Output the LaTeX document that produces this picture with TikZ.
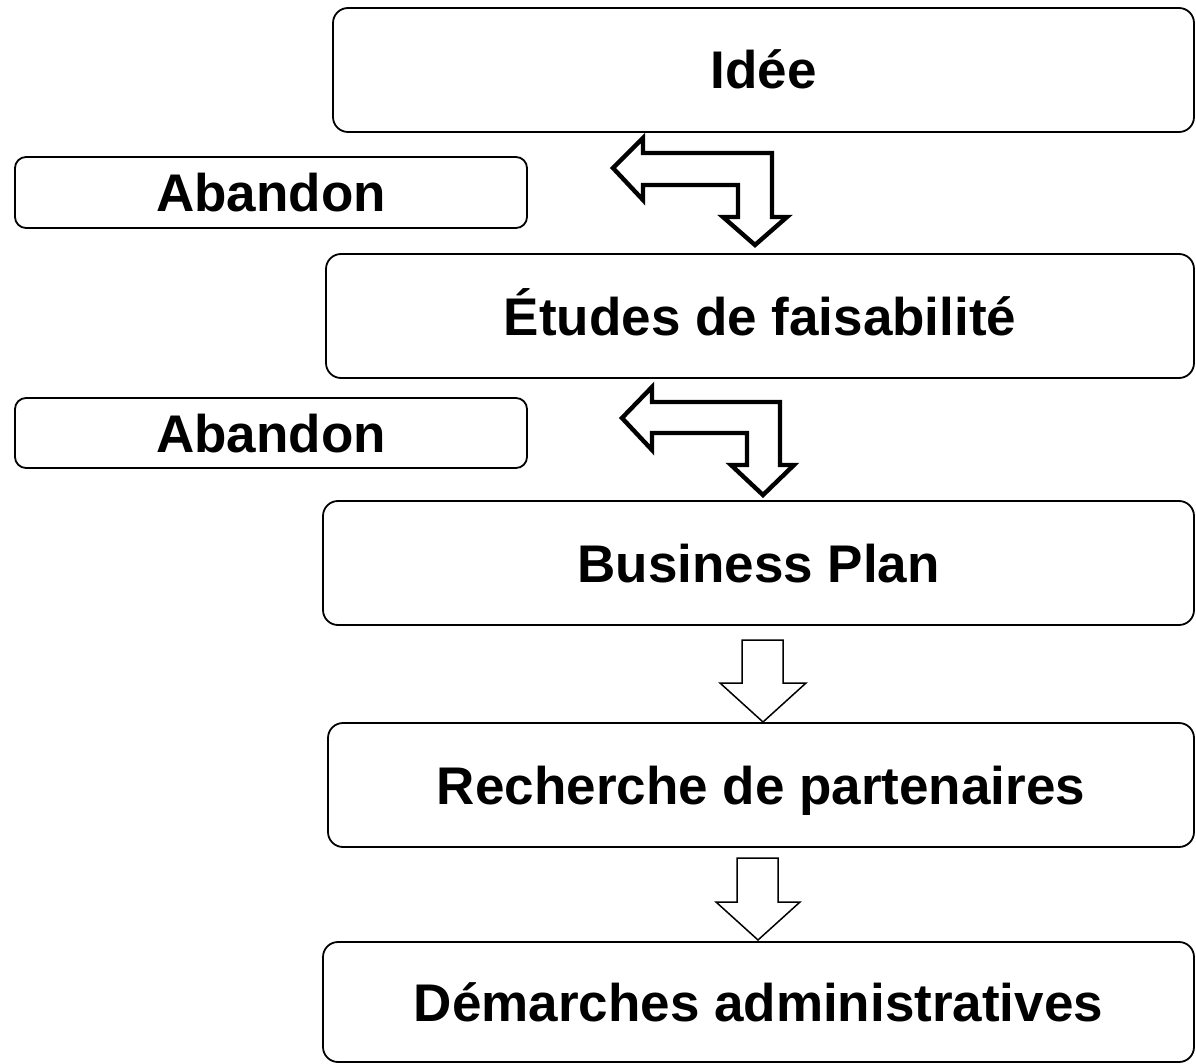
\documentclass[tikz,border=0pt]{standalone}
\usepackage{fontspec}
\setmainfont{Liberation Sans}
\begin{document}
\begin{tikzpicture}[x=1pt,y=-1pt,
  box/.style={draw,line width=1.8pt,rounded corners=15pt,inner sep=0pt,
    text height=38pt,text depth=0pt,
    font=\fontsize{53}{60}\selectfont\bfseries},
  smallbox/.style={box,rounded corners=11pt},
  bentarrow/.style={draw,line width=4.4pt,line join=miter,fill=white},
  downarrow/.style={draw,line width=1.5pt,line join=miter,fill=white}]
\useasboundingbox (0,0) rectangle (1196,1064);

\node[box,minimum width=861pt,minimum height=124pt] (idee) at (763.5,70) {Idée};
\node[smallbox,minimum width=512pt,minimum height=71pt] (ab1) at (271,192.5) {Abandon};
\node[box,minimum width=868pt,minimum height=124pt] (etudes) at (760,316) {Études de faisabilité};
\node[smallbox,minimum width=512pt,minimum height=70pt] (ab2) at (271,433) {Abandon};
\node[box,minimum width=871pt,minimum height=124pt] (bp) at (758.5,563) {Business Plan};
\node[box,minimum width=866pt,minimum height=124pt] (rech) at (761,785) {Recherche de partenaires};
\node[box,minimum width=871pt,minimum height=120pt] (dem) at (758.5,1002) {Démarches administratives};

% bent arrow between Idée and Études
\path[bentarrow] (613,168) -- (643,138) -- (643,153) -- (772,153) -- (772,217)
  -- (787,217) -- (755,245) -- (723,217) -- (738,217) -- (738,185)
  -- (643,185) -- (643,200) -- cycle;
% bent arrow between Études and Business Plan
\path[bentarrow] (622,418) -- (652,387) -- (652,402) -- (780,402) -- (780,465)
  -- (794,465) -- (763,495) -- (731,465) -- (747,465) -- (747,433)
  -- (652,433) -- (652,450) -- cycle;
% down arrow between Business Plan and Recherche
\path[downarrow] (742,640) -- (783,640) -- (783,683) -- (806,683) -- (763,722)
  -- (720,683) -- (742,683) -- cycle;
% down arrow between Recherche and Démarches
\path[downarrow] (737,858) -- (778,858) -- (778,902) -- (800,902) -- (758,940)
  -- (716,902) -- (737,902) -- cycle;
\end{tikzpicture}
\end{document}
